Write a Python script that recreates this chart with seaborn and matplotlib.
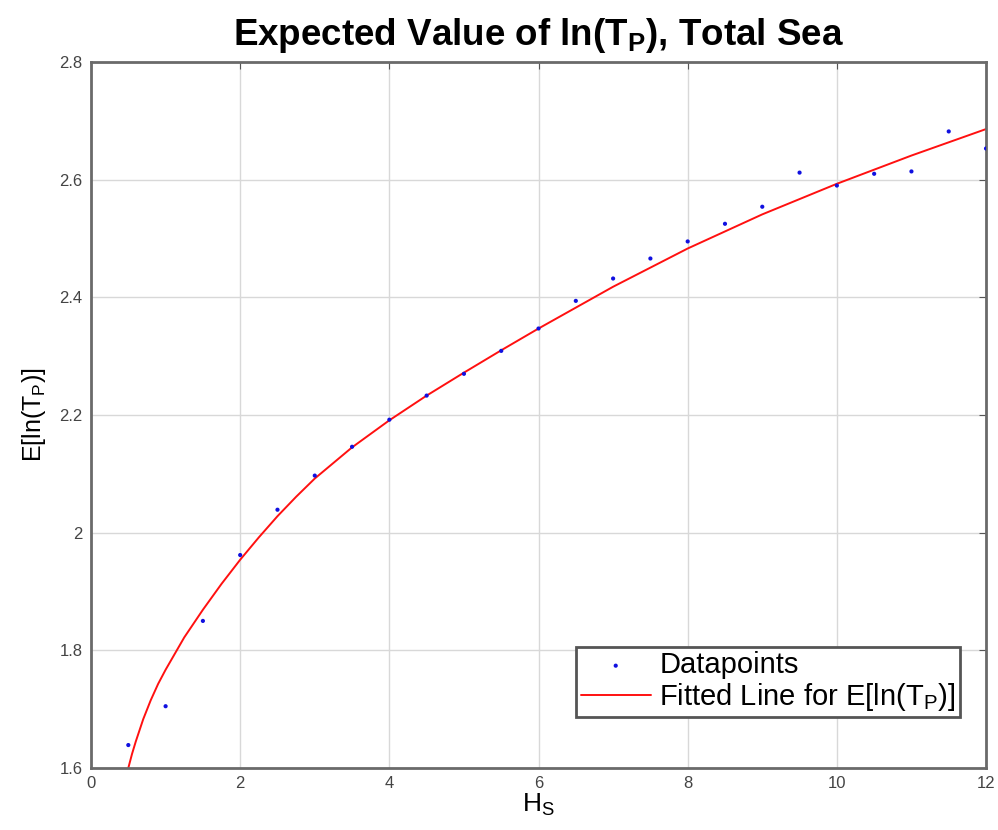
import matplotlib
matplotlib.use("Agg")
import matplotlib.pyplot as plt
import seaborn as sns
import pandas as pd
from matplotlib.ticker import FormatStrFormatter

# datapoints
hs = [0.5, 1, 1.5, 2, 2.5, 3, 3.5, 4, 4.5, 5, 5.5, 6,
      6.5, 7, 7.5, 8, 8.5, 9, 9.5, 10, 10.5, 11, 11.5, 12]
ln_tp = [1.639, 1.705, 1.850, 1.962, 2.039, 2.097, 2.146, 2.192, 2.233, 2.270, 2.309, 2.347,
         2.394, 2.432, 2.466, 2.495, 2.525, 2.554, 2.612, 2.590, 2.610, 2.614, 2.682, 2.653]

# fitted curve, read at sample points
fit_x = [0.5, 0.55, 0.6, 0.7, 0.8, 0.9, 1, 1.25, 1.5, 1.75, 2, 2.25, 2.5, 2.75, 3,
         3.5, 4, 4.5, 5, 5.5, 6, 7, 8, 9, 10, 11, 12]
fit_y = [1.600, 1.624, 1.645, 1.683, 1.715, 1.743, 1.767, 1.822, 1.869, 1.913, 1.954,
         1.992, 2.028, 2.061, 2.092, 2.145, 2.191, 2.233, 2.272, 2.310, 2.347,
         2.418, 2.483, 2.541, 2.593, 2.641, 2.686]

pts = pd.DataFrame({'hs': hs, 'y': ln_tp})
fit = pd.DataFrame({'hs': fit_x, 'y': fit_y})

sns.set_style("whitegrid")
plt.rcParams['font.family'] = ['Liberation Sans', 'DejaVu Sans']
plt.rcParams['mathtext.fontset'] = 'custom'
plt.rcParams['mathtext.rm'] = 'Liberation Sans'
plt.rcParams['mathtext.it'] = 'Liberation Sans'
plt.rcParams['text.color'] = 'black'
plt.rcParams['axes.labelcolor'] = 'black'

fig = plt.figure(figsize=(9.98, 8.3), dpi=100)
ax = fig.add_axes([0.0912, 0.0747, 0.8968, 0.8506])

sns.scatterplot(data=pts, x='hs', y='y', ax=ax, color='#1010e0', s=9,
                edgecolor='none', label='Datapoints', zorder=3)
sns.lineplot(data=fit, x='hs', y='y', ax=ax, color='#ff1010', linewidth=1.4,
             label=r'Fitted Line for E[ln(T$_\mathregular{P}$)]', zorder=2)

ax.set_xlim(0, 12)
ax.set_ylim(1.6, 2.8)
ax.set_xticks(range(0, 13, 2))
ax.set_yticks([1.6, 1.8, 2.0, 2.2, 2.4, 2.6, 2.8])
ax.yaxis.set_major_formatter(FormatStrFormatter('%g'))
ax.tick_params(direction='in', length=5, color='#555555', labelsize=12,
               labelcolor='#444444', top=True, right=True, pad=6)
ax.grid(True, color='#d8d8d8', linewidth=1)
for sp in ax.spines.values():
    sp.set_color('#6a6a6a')
    sp.set_linewidth(2)

ax.set_title(r'Expected Value of ln(T$_\mathregular{P}$), Total Sea',
             fontsize=26.5, fontweight='bold', pad=12)
ax.set_xlabel(r'H$_\mathregular{S}$', fontsize=19, labelpad=0)
ax.set_ylabel(r'E[ln(T$_\mathregular{P}$)]', fontsize=18, labelpad=8)

leg = ax.legend(loc='lower right', bbox_to_anchor=(0.971, 0.072), fontsize=21,
                frameon=True, fancybox=False, borderpad=0.15, labelspacing=0.05,
                handletextpad=0.3, handlelength=2.4, borderaxespad=0)
leg.get_frame().set_edgecolor('#555555')
leg.get_frame().set_linewidth(2)
leg.get_frame().set_alpha(1)

fig.savefig('out.png', dpi=100)
